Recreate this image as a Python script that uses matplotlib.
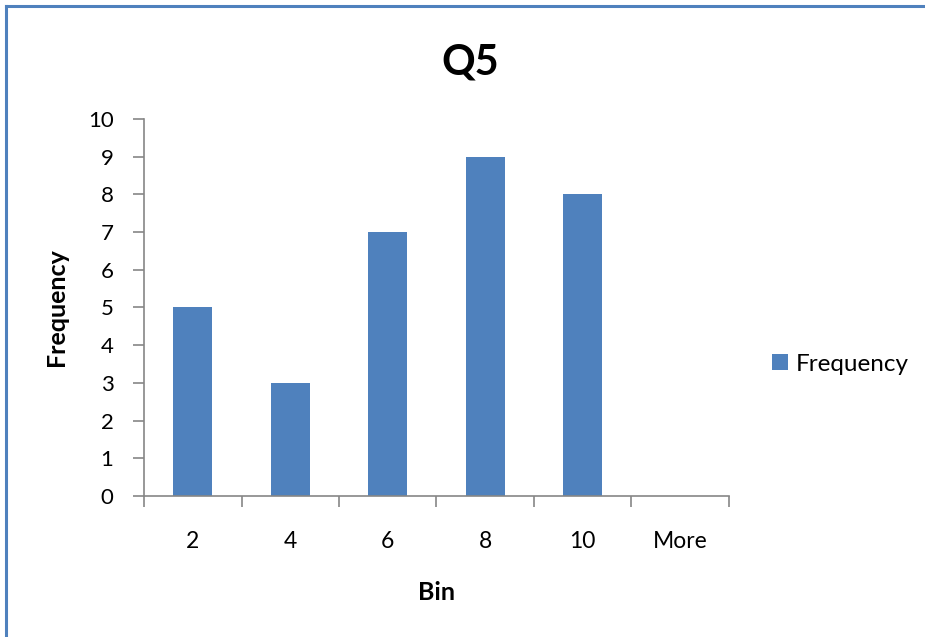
import matplotlib
matplotlib.use("Agg")
import matplotlib.pyplot as plt
from matplotlib.lines import Line2D
from matplotlib.patches import Patch

bins = ["2", "4", "6", "8", "10", "More"]
frequency = [5, 3, 7, 9, 8, 0]
yticks = list(range(0, 11))

plt.rcParams["font.family"] = ["Lato", "DejaVu Sans"]

bar_color = "#4F81BD"
axis_color = "#868686"

fig = plt.figure(figsize=(9.25, 6.37), dpi=100)
ax = fig.add_axes([0.1557, 0.2214, 0.788 - 0.1557, 0.8132 - 0.2214])

x = list(range(len(bins)))
ax.bar(x, frequency, width=0.4, color=bar_color, label="Frequency")

ax.set_xlim(-0.5, len(bins) - 0.5)
ax.set_ylim(0, 10)

ax.set_yticks(yticks)
ax.set_yticklabels([str(v) for v in yticks])

# category labels sit between the boundary ticks
ax.set_xticks(x)
ax.set_xticklabels(bins)
ax.tick_params(axis="x", which="major", length=0, pad=25, labelsize=16.5)
ax.set_xticks([i - 0.5 for i in range(len(bins) + 1)], minor=True)
ax.tick_params(axis="x", which="minor", length=8, width=1.2, color=axis_color, direction="out")
ax.tick_params(axis="y", length=8, width=1.2, color=axis_color, direction="out", pad=14, labelsize=16)

for side in ["top", "right"]:
    ax.spines[side].set_visible(False)
for side in ["left", "bottom"]:
    ax.spines[side].set_color(axis_color)
    ax.spines[side].set_linewidth(1.2)

# title is centred over the whole chart area, not the plot box
ax.set_title("Q5", fontsize=30, fontweight="bold", pad=32, x=0.557)
ax.set_ylabel("Frequency", fontsize=18, fontweight="bold", labelpad=14)
ax.set_xlabel("Bin", fontsize=18, fontweight="bold", labelpad=21)

handles = [Patch(facecolor=bar_color, label="Frequency")]
fig.legend(handles=handles, loc="center left", bbox_to_anchor=(0.824, 0.428),
           frameon=False, fontsize=17.5, handlelength=0.65, handleheight=0.65,
           handletextpad=0.35, borderaxespad=0)

# chart area outline (left and top edges)
fig.add_artist(Line2D([0.0065, 0.0065], [0, 0.991], color=bar_color, lw=2.2, transform=fig.transFigure))
fig.add_artist(Line2D([0.0065, 1], [0.991, 0.991], color=bar_color, lw=2.2, transform=fig.transFigure))

fig.savefig("out.png", dpi=100)
